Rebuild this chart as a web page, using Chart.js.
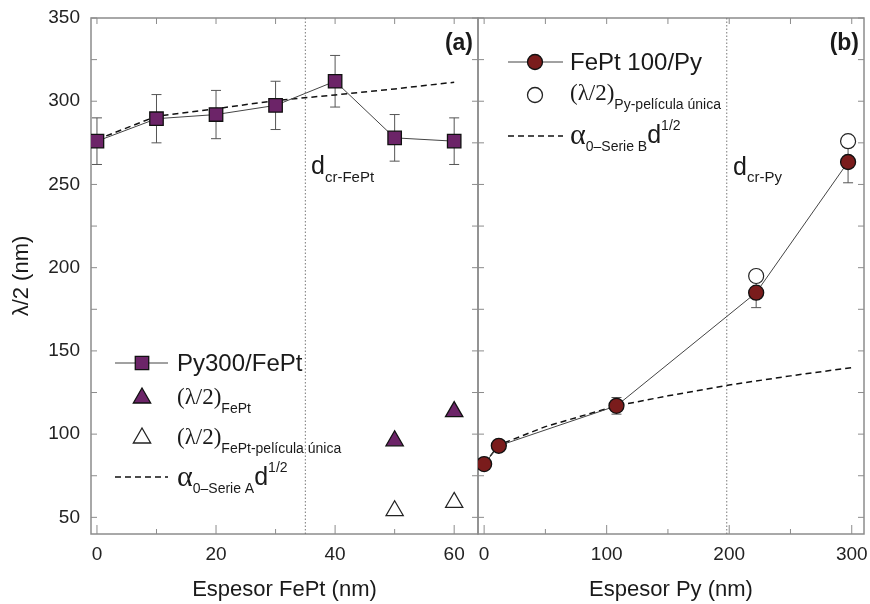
<!DOCTYPE html>
<html>
<head>
<meta charset="utf-8">
<script src="https://cdn.jsdelivr.net/npm/chart.js@4.4.0/dist/chart.umd.min.js"></script>
<style>
  body { margin: 0; background: #fff; }
  #wrap { position: relative; width: 870px; height: 604px; overflow: hidden; }
  canvas { position: absolute; top: 0; }
  #chartA { left: 0; }
  #chartB { left: 470px; }
</style>
</head>
<body>
<div id="wrap">
  <canvas id="chartA" width="480" height="604"></canvas>
  <canvas id="chartB" width="400" height="604"></canvas>
</div>
<script>
// panel (a): Py300/FePt
const fePtThick = [0, 10, 20, 30, 40, 50, 60];
const py300Lambda = [276, 289.5, 292, 297.5, 312, 278, 276];
const py300Err = [14, 14.5, 14.5, 14.5, 15.5, 14, 14];
const fePtOnlyX = [50, 60];
const fePtLambda = [96, 113.5];
const fePtSingleLambda = [54, 59];
const fitAX = [0, 10, 20, 30, 40, 50, 60];
const fitAY = [277, 291, 295.5, 300.4, 303.8, 307.4, 311.4];
const dCrFePt = 35;

// panel (b): FePt 100/Py
const pyThick = [0, 12, 108, 222, 297];
const fePt100Lambda = [82, 93, 117, 185, 263.5];
const fePt100Err = [3, 3, 5, 9, 12.5];
const pySingleX = [222, 297];
const pySingleLambda = [195, 276];
const fitBX = [0, 12, 50, 108, 150, 200, 250, 300];
const fitBY = [82, 93.5, 104.5, 117, 123, 129.5, 135, 140];
const dCrPy = 198;

// axes
const yTicks = [50, 100, 150, 200, 250, 300, 350];
const yMinor = [75, 125, 175, 225, 275, 325];
const xTicksA = [0, 20, 40, 60];
const xMinorA = [10, 30, 50];
const xTicksB = [0, 100, 200, 300];
const xMinorB = [50, 150, 250];

const SANS = '"Liberation Sans", Arial, sans-serif';
const SERIF = '"Liberation Serif", "Times New Roman", serif';
const INK = '#1a1a1a';
const PURPLE = '#6c2468';
const DARKRED = '#7a1c1c';

const pts = (xs, ys) => xs.map((x, i) => ({ x: x, y: ys[i] }));

function drawRun(ctx, x, y, parts) {
  ctx.textAlign = 'left';
  ctx.textBaseline = 'middle';
  ctx.fillStyle = INK;
  parts.forEach(p => {
    ctx.font = (p[4] || '') + ' ' + p[1] + 'px ' + p[2];
    ctx.fillText(p[0], x, y + (p[3] || 0));
    x += ctx.measureText(p[0]).width;
  });
}

function marker(ctx, style, x, y, r, fill, stroke) {
  ctx.beginPath();
  if (style === 'rect') {
    const s = r * Math.SQRT1_2;
    ctx.rect(x - s, y - s, 2 * s, 2 * s);
  } else if (style === 'triangle') {
    let a = 0;
    for (let k = 0; k < 3; k++) {
      const px = x + Math.sin(a) * r, py = y - Math.cos(a) * r;
      k ? ctx.lineTo(px, py) : ctx.moveTo(px, py);
      a += 2 * Math.PI / 3;
    }
    ctx.closePath();
  } else {
    ctx.arc(x, y, r, 0, Math.PI * 2);
  }
  ctx.fillStyle = fill;
  ctx.fill();
  ctx.lineWidth = 1.3;
  ctx.strokeStyle = stroke;
  ctx.stroke();
}

function legendLine(ctx, x0, x1, y, dashed) {
  ctx.beginPath();
  ctx.setLineDash(dashed ? [6, 4] : []);
  ctx.lineWidth = dashed ? 1.5 : 1;
  ctx.strokeStyle = dashed ? '#111' : '#444';
  ctx.moveTo(x0, y);
  ctx.lineTo(x1, y);
  ctx.stroke();
  ctx.setLineDash([]);
}

// frame with inward ticks + error bars
const framePlugin = {
  id: 'frame',
  beforeDatasetsDraw(chart, args, opts) {
    const { ctx, chartArea: a, scales: { x, y } } = chart;
    ctx.save();
    ctx.strokeStyle = '#8c8c8c';
    ctx.lineWidth = 1;
    ctx.beginPath();
    opts.xMajor.concat(opts.xMinor).forEach(v => {
      const px = x.getPixelForValue(v);
      const L = opts.xMajor.includes(v) ? 9 : 5;
      ctx.moveTo(px, a.bottom); ctx.lineTo(px, a.bottom - L);
      ctx.moveTo(px, a.top); ctx.lineTo(px, a.top + 6);
    });
    yTicks.concat(yMinor).forEach(v => {
      const py = y.getPixelForValue(v);
      ctx.moveTo(a.left, py); ctx.lineTo(a.left + 6, py);
      ctx.moveTo(a.right, py); ctx.lineTo(a.right - 6, py);
    });
    ctx.stroke();
    ctx.lineWidth = 1.5;
    ctx.strokeRect(a.left, a.top, a.right - a.left, a.bottom - a.top);

    // error bars
    chart.data.datasets.forEach((ds, i) => {
      if (!ds.errors) return;
      ctx.strokeStyle = '#555';
      ctx.lineWidth = 1;
      ctx.beginPath();
      ds.data.forEach((d, j) => {
        const px = x.getPixelForValue(d.x);
        const hi = y.getPixelForValue(d.y + ds.errors[j]);
        const lo = y.getPixelForValue(d.y - ds.errors[j]);
        ctx.moveTo(px, hi); ctx.lineTo(px, lo);
        ctx.moveTo(px - 5, hi); ctx.lineTo(px + 5, hi);
        ctx.moveTo(px - 5, lo); ctx.lineTo(px + 5, lo);
      });
      ctx.stroke();
    });
    ctx.restore();
  }
};

const notesA = {
  id: 'notesA',
  afterDraw(chart) {
    const ctx = chart.ctx;
    ctx.save();
    ctx.textAlign = 'right';
    ctx.textBaseline = 'middle';
    ctx.fillStyle = INK;
    ctx.font = 'bold 23px ' + SANS;
    ctx.fillText('(a)', 473, 44);
    drawRun(ctx, 311, 167, [['d', 25, SANS], ['cr-FePt', 15, SANS, 11]]);

    legendLine(ctx, 115, 168, 363, false);
    marker(ctx, 'rect', 142, 363, 9.5, PURPLE, '#111');
    drawRun(ctx, 177, 364, [['Py300/FePt', 24, SANS]]);
    marker(ctx, 'triangle', 142, 398, 10, PURPLE, '#111');
    drawRun(ctx, 177, 398, [['(λ/2)', 23, SERIF], ['FePt', 14, SANS, 11]]);
    marker(ctx, 'triangle', 142, 438, 10, '#fff', '#222');
    drawRun(ctx, 177, 438, [['(λ/2)', 23, SERIF], ['FePt-película única', 14, SANS, 11]]);
    legendLine(ctx, 115, 168, 477, true);
    drawRun(ctx, 177, 478, [['α', 30, SERIF], ['0–Serie A', 14, SANS, 11], ['d', 25, SANS], ['1/2', 14, SANS, -10]]);
    ctx.restore();
  }
};

const notesB = {
  id: 'notesB',
  afterDraw(chart) {
    const ctx = chart.ctx;
    ctx.save();
    ctx.textAlign = 'right';
    ctx.textBaseline = 'middle';
    ctx.fillStyle = INK;
    ctx.font = 'bold 23px ' + SANS;
    ctx.fillText('(b)', 389, 44);
    drawRun(ctx, 263, 168, [['d', 25, SANS], ['cr-Py', 15, SANS, 10]]);

    legendLine(ctx, 38, 93, 62, false);
    marker(ctx, 'circle', 65, 62, 7.5, DARKRED, '#111');
    drawRun(ctx, 100, 63, [['FePt 100/Py', 24, SANS]]);
    marker(ctx, 'circle', 65, 95, 7.5, '#fff', '#222');
    drawRun(ctx, 100, 94, [['(λ/2)', 23, SERIF], ['Py-película única', 14, SANS, 11]]);
    legendLine(ctx, 38, 93, 136, true);
    drawRun(ctx, 100, 136, [['α', 30, SERIF], ['0–Serie B', 14, SANS, 11], ['d', 25, SANS], ['1/2', 14, SANS, -10]]);
    ctx.restore();
  }
};

function tickFont() { return { size: 19, family: SANS }; }

function noPad(s) {
  s.paddingTop = 0; s.paddingBottom = 0; s.paddingLeft = 0; s.paddingRight = 0;
}

function xScale(min, max, ticks) {
  return {
    type: 'linear', min: min, max: max,
    afterBuildTicks: s => { s.ticks = ticks.map(v => ({ value: v })); },
    afterFit: s => { s.height = 70; noPad(s); },
    grid: { display: false, drawTicks: false },
    border: { display: false },
    ticks: { font: tickFont(), color: '#222', padding: 9, maxRotation: 0, autoSkip: false }
  };
}

function yScale(show) {
  return {
    type: 'linear', min: 40, max: 350,
    afterBuildTicks: s => { s.ticks = yTicks.map(v => ({ value: v })); },
    afterFit: s => { s.width = show ? 91 : 8; noPad(s); },
    grid: { display: false, drawTicks: false },
    border: { display: false },
    ticks: { display: show, font: tickFont(), color: '#222', padding: 11 },
    title: { display: show, text: 'λ/2 (nm)', font: { size: 22, family: SANS }, color: INK, padding: { top: 9, bottom: 0 } }
  };
}

const common = {
  responsive: false,
  animation: false,
  devicePixelRatio: 1,
  plugins: { legend: { display: false }, tooltip: { enabled: false } }
};

new Chart(document.getElementById('chartA'), {
  type: 'line',
  data: {
    datasets: [
      {
        label: 'Py300/FePt', data: pts(fePtThick, py300Lambda), errors: py300Err,
        borderColor: '#444', borderWidth: 1, pointStyle: 'rect', pointRadius: 9.5,
        pointBackgroundColor: PURPLE, pointBorderColor: '#111', pointBorderWidth: 1.3, order: 1
      },
      {
        label: '(λ/2) FePt', data: pts(fePtOnlyX, fePtLambda), showLine: false,
        pointStyle: 'triangle', pointRadius: 10, pointBackgroundColor: PURPLE,
        pointBorderColor: '#111', pointBorderWidth: 1.3, order: 0
      },
      {
        label: '(λ/2) FePt-película única', data: pts(fePtOnlyX, fePtSingleLambda), showLine: false,
        pointStyle: 'triangle', pointRadius: 10, pointBackgroundColor: '#fff',
        pointBorderColor: '#222', pointBorderWidth: 1.2, order: 0
      },
      {
        label: 'α0 d^1/2', data: pts(fitAX, fitAY), borderColor: '#111', borderWidth: 1.5,
        borderDash: [6, 4], pointRadius: 0, order: 3
      },
      {
        label: 'dcr-FePt', data: [{ x: dCrFePt, y: 40 }, { x: dCrFePt, y: 350 }],
        borderColor: '#777', borderWidth: 1, borderDash: [1.5, 2], pointRadius: 0, order: 4
      }
    ]
  },
  options: Object.assign({}, common, {
    layout: { autoPadding: false, padding: { top: 18, right: 2, left: 0, bottom: 0 } },
    scales: {
      x: Object.assign(xScale(-1, 64, xTicksA), {
        title: { display: true, text: 'Espesor FePt (nm)', font: { size: 22, family: SANS }, color: INK, padding: { top: 0, bottom: 1 } }
      }),
      y: yScale(true)
    },
    plugins: Object.assign({}, common.plugins, { frame: { xMajor: xTicksA, xMinor: xMinorA } })
  }),
  plugins: [framePlugin, notesA]
});

new Chart(document.getElementById('chartB'), {
  type: 'line',
  data: {
    datasets: [
      {
        label: 'FePt 100/Py', data: pts(pyThick, fePt100Lambda), errors: fePt100Err,
        borderColor: '#444', borderWidth: 1, pointStyle: 'circle', pointRadius: 7.5,
        pointBackgroundColor: DARKRED, pointBorderColor: '#111', pointBorderWidth: 1.3, order: 1
      },
      {
        label: '(λ/2) Py-película única', data: pts(pySingleX, pySingleLambda), showLine: false,
        pointStyle: 'circle', pointRadius: 7.5, pointBackgroundColor: '#fff',
        pointBorderColor: '#222', pointBorderWidth: 1.2, order: 0
      },
      {
        label: 'α0 d^1/2', data: pts(fitBX, fitBY), borderColor: '#111', borderWidth: 1.5,
        borderDash: [6, 4], pointRadius: 0, order: 3
      },
      {
        label: 'dcr-Py', data: [{ x: dCrPy, y: 40 }, { x: dCrPy, y: 350 }],
        borderColor: '#777', borderWidth: 1, borderDash: [1.5, 2], pointRadius: 0, order: 4
      }
    ]
  },
  options: Object.assign({}, common, {
    layout: { autoPadding: false, padding: { top: 18, right: 6, left: 0, bottom: 0 } },
    scales: {
      x: Object.assign(xScale(-5, 310, xTicksB), {
        title: { display: true, text: 'Espesor Py (nm)', font: { size: 22, family: SANS }, color: INK, padding: { top: 0, bottom: 1 } }
      }),
      y: yScale(false)
    },
    plugins: Object.assign({}, common.plugins, { frame: { xMajor: xTicksB, xMinor: xMinorB } })
  }),
  plugins: [framePlugin, notesB]
});
</script>
</body>
</html>
